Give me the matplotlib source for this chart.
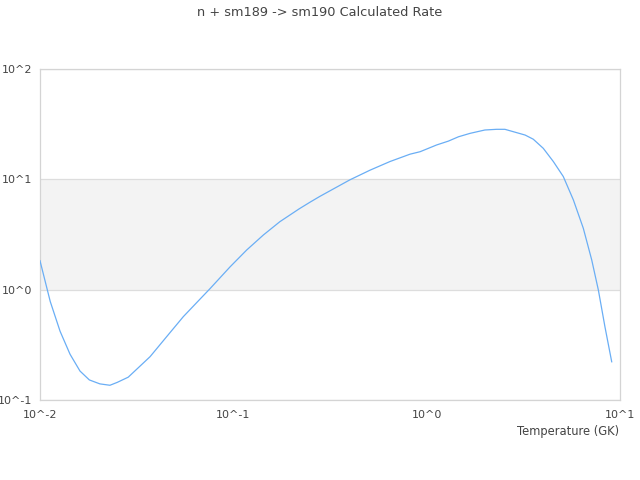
import numpy as np
import matplotlib.pyplot as plt
from matplotlib.ticker import FixedLocator, NullLocator

# temperature (GK) and calculated rate
temp = [0.010, 0.0113, 0.0127, 0.0143, 0.0161, 0.018, 0.0204, 0.023, 0.0251, 0.0286,
        0.0371, 0.0452, 0.0551, 0.0672, 0.0757, 0.0962, 0.1173, 0.143, 0.174, 0.219,
        0.249, 0.28, 0.401, 0.509, 0.646, 0.82, 0.925, 1.127, 1.295, 1.46,
        1.676, 2.0, 2.3, 2.54, 3.23, 3.56, 4.01, 4.52, 5.09, 5.74,
        6.46, 7.14, 7.73, 8.36, 9.06]
rate = [1.83, 0.78, 0.42, 0.26, 0.183, 0.152, 0.140, 0.136, 0.1445, 0.161,
        0.247, 0.375, 0.569, 0.82, 1.02, 1.61, 2.29, 3.13, 4.13, 5.4,
        6.2, 7.0, 9.9, 12.1, 14.5, 16.9, 17.8, 20.5, 22.2, 24.3,
        26.1, 28.0, 28.4, 28.4, 25.2, 23.1, 19.1, 14.5, 10.6, 6.5,
        3.6, 1.86, 0.99, 0.46, 0.222]

x_ticks = [0.01, 0.1, 1, 10]
x_labels = ['10^-2', '10^-1', '10^0', '10^1']
y_ticks = [0.1, 1, 10, 100]
y_labels = ['10^-1', '10^0', '10^1', '10^2']

text_color = '#444444'

fig = plt.figure(figsize=(6.4, 4.8), dpi=100)
ax = fig.add_axes([40 / 640, 80 / 480, 580 / 640, 331 / 480])

# shaded band between 10^0 and 10^1
ax.axhspan(1, 10, color='#f3f3f3', zorder=0, lw=0)
ax.plot(temp, rate, color='#6aaef5', lw=0.9, zorder=3)

ax.set_xscale('log')
ax.set_yscale('log')
ax.set_xlim(0.01, 10)
ax.set_ylim(0.1, 100)

ax.xaxis.set_major_locator(FixedLocator(x_ticks))
ax.yaxis.set_major_locator(FixedLocator(y_ticks))
ax.xaxis.set_minor_locator(NullLocator())
ax.yaxis.set_minor_locator(NullLocator())
ax.set_xticklabels(x_labels)
ax.set_yticklabels(y_labels)
ax.tick_params(length=0, labelsize=8, colors=text_color)
ax.tick_params(axis='x', pad=7)
ax.tick_params(axis='y', pad=5.5)

ax.yaxis.grid(True, color='#dddddd', lw=0.9, zorder=1)
ax.set_axisbelow(True)
for s in ax.spines.values():
    s.set_color('#d4d4d4')
    s.set_linewidth(0.9)

fig.text(0.5, 1 - 12 / 480, 'n + sm189 -> sm190 Calculated Rate',
         ha='center', va='center', fontsize=9.3, color=text_color)
fig.text(619 / 640, 1 - 431 / 480, 'Temperature (GK)',
         ha='right', va='center', fontsize=8.3, color=text_color)

fig.savefig('out.png', dpi=100)
